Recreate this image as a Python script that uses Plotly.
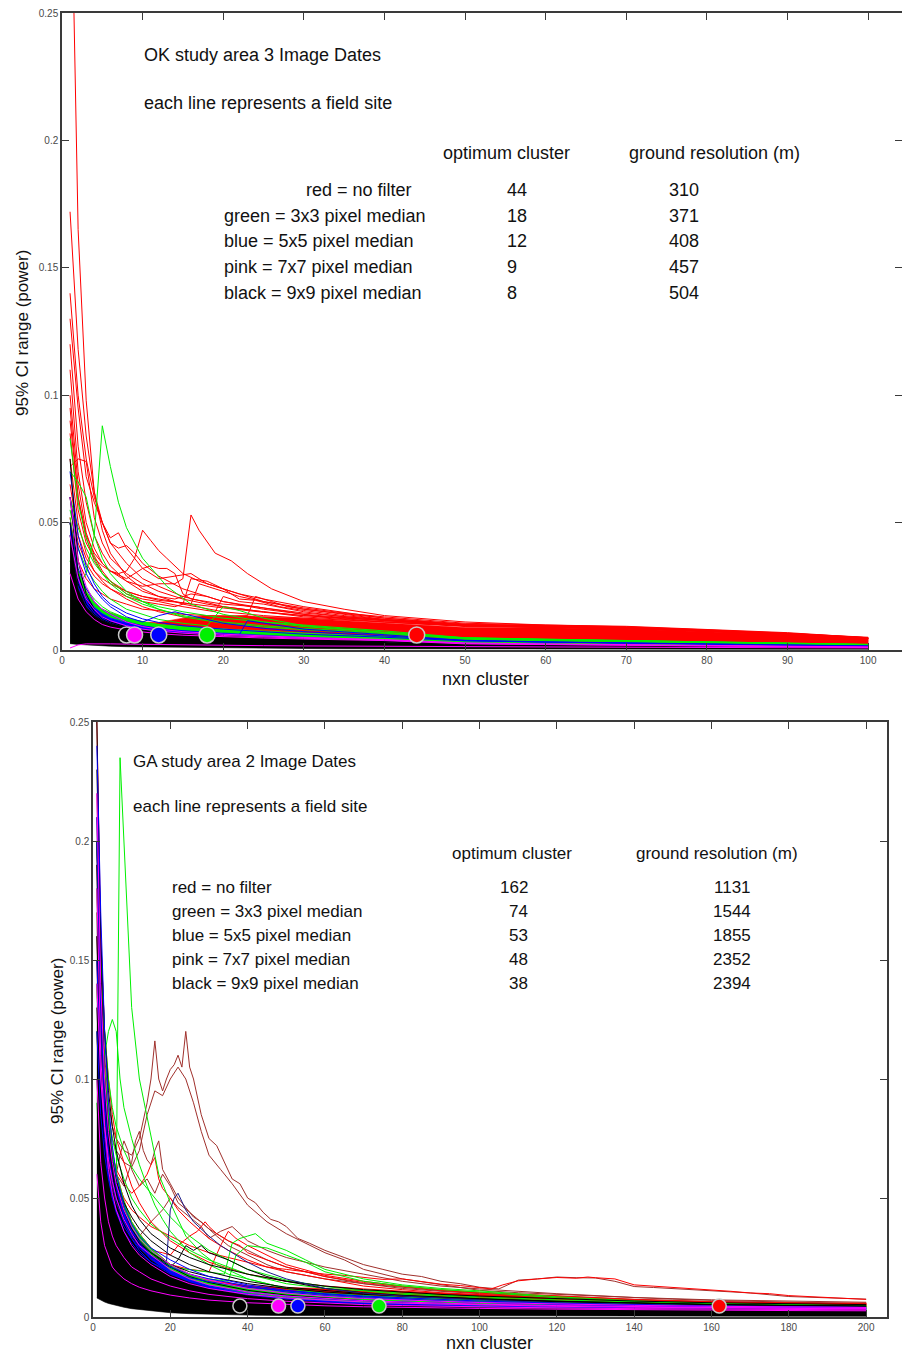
import plotly.graph_objects as go

W, H = 902, 1355
FONT = "Liberation Sans, Arial, sans-serif"

# ---------------- common categories ----------------
filter_labels = ["red = no filter", "green = 3x3 pixel median", "blue = 5x5 pixel median",
                 "pink = 7x7 pixel median", "black = 9x9 pixel median"]
filter_colors = ["#FF0000", "#00F000", "#0000FF", "#FF00FF", "#000000"]

# ---------------- OK study area (top panel) ----------------
ok_opt_cluster = [44, 18, 12, 9, 8]
ok_ground_res = [310, 371, 408, 457, 504]
ok_marker_level = [0.0059, 0.0059, 0.0059, 0.0059, 0.0059]

ok_band_x = [1, 2, 3, 4, 5, 6, 8, 10, 12, 15, 18, 22, 26, 30, 35, 40, 50, 60, 70, 80, 90, 100]
ok_floor = [0.0025, 0.0022, 0.002, 0.0018, 0.0016, 0.0015, 0.0013, 0.0012, 0.0011, 0.001, 0.0009,
            0.0008, 0.0007, 0.0006, 0.0005, 0.0004, 0.0003, 0.0003, 0.0003, 0.0003, 0.0003, 0.0003]
ok_black_top = [0.045, 0.024, 0.017, 0.0135, 0.0115, 0.0102, 0.0088, 0.0077, 0.007, 0.0064, 0.006,
                0.0055, 0.0048, 0.0042, 0.0037, 0.0032, 0.002, 0.0017, 0.0014, 0.0012, 0.001, 0.0008]
ok_blue_top = [0.05, 0.029, 0.021, 0.0168, 0.0143, 0.0126, 0.0108, 0.0094, 0.0085, 0.0076, 0.007,
               0.0063, 0.0056, 0.005, 0.0044, 0.0039, 0.0027, 0.0023, 0.002, 0.0017, 0.0013, 0.001]
ok_green_top = [0.052, 0.031, 0.023, 0.0185, 0.016, 0.0145, 0.0125, 0.011, 0.0101, 0.0092, 0.0086,
                0.0079, 0.0073, 0.0067, 0.006, 0.0055, 0.0039, 0.0036, 0.0032, 0.0028, 0.0024, 0.002]
ok_red_top = [0.052, 0.031, 0.023, 0.0185, 0.016, 0.0145, 0.0125, 0.011, 0.0108, 0.0125, 0.0135,
              0.0135, 0.013, 0.0125, 0.0115, 0.0106, 0.0088, 0.0087, 0.0082, 0.0072, 0.006, 0.0047]

OKX = [1, 2, 3, 4, 5, 6, 8, 10, 12, 15, 20, 25, 30, 40, 50, 60, 70, 80, 90, 100]

ok_red_lines = [
    (OKX, [0.33, 0.165, 0.098, 0.062, 0.047, 0.038, 0.029, 0.024, 0.021, 0.018, 0.015, 0.0135, 0.0125, 0.011, 0.0095, 0.0092, 0.0088, 0.0075, 0.0065, 0.005]),
    (OKX, [0.172, 0.118, 0.084, 0.062, 0.05, 0.042, 0.034, 0.028, 0.025, 0.021, 0.017, 0.015, 0.0135, 0.0115, 0.0097, 0.0094, 0.0088, 0.0077, 0.0064, 0.0048]),
    ([1, 2, 3, 4, 5, 6, 8, 10, 12, 14, 15, 16, 17, 19, 21, 23, 26, 30, 35, 40, 50, 60, 70, 80, 90, 100],
     [0.11, 0.07, 0.05, 0.04, 0.034, 0.031, 0.027, 0.025, 0.026, 0.026, 0.028, 0.053, 0.047, 0.038, 0.035, 0.03, 0.024, 0.019, 0.016, 0.0135, 0.011, 0.0098, 0.0093, 0.008, 0.0068, 0.0048]),
    ([1, 2, 3, 4, 5, 6, 7, 8, 9, 10, 11, 12, 13, 14, 15, 17, 20, 25, 30, 40, 50, 60, 70, 80, 90, 100],
     [0.09, 0.06, 0.045, 0.038, 0.034, 0.031, 0.03, 0.031, 0.036, 0.047, 0.043, 0.039, 0.036, 0.033, 0.03, 0.027, 0.024, 0.019, 0.016, 0.0125, 0.0102, 0.0096, 0.009, 0.0078, 0.0065, 0.0047]),
    ([1, 2, 3, 4, 5, 6, 8, 10, 12, 15, 18, 20, 25, 30, 40, 50, 60, 70, 80, 90, 100],
     [0.072, 0.075, 0.074, 0.052, 0.042, 0.036, 0.03, 0.026, 0.023, 0.02, 0.018, 0.017, 0.015, 0.013, 0.011, 0.0095, 0.009, 0.0085, 0.0074, 0.0062, 0.0046]),
    ([1, 2, 3, 4, 5, 6, 7, 8, 10, 12, 14, 16, 18, 20, 22, 25, 30, 40, 50, 60, 70, 80, 90, 100],
     [0.13, 0.095, 0.068, 0.058, 0.05, 0.044, 0.046, 0.04, 0.032, 0.028, 0.029, 0.03, 0.026, 0.024, 0.022, 0.02, 0.017, 0.0125, 0.0098, 0.009, 0.0086, 0.0076, 0.0062, 0.0046]),
    ([1, 2, 3, 4, 5, 6, 8, 10, 11, 12, 13, 14, 15, 16, 18, 20, 24, 28, 32, 40, 50, 60, 70, 80, 90, 100],
     [0.085, 0.055, 0.042, 0.036, 0.033, 0.031, 0.028, 0.032, 0.033, 0.032, 0.032, 0.03, 0.022, 0.02, 0.019, 0.018, 0.017, 0.015, 0.013, 0.011, 0.0092, 0.0088, 0.0082, 0.0072, 0.006, 0.0045]),
    ([1, 2, 3, 4, 5, 6, 8, 10, 12, 14, 15, 16, 18, 20, 22, 24, 27, 30, 35, 40, 50, 60, 70, 80, 90, 100],
     [0.06, 0.042, 0.034, 0.029, 0.026, 0.024, 0.021, 0.019, 0.018, 0.017, 0.018, 0.028, 0.027, 0.024, 0.02, 0.0195, 0.017, 0.0155, 0.0135, 0.012, 0.01, 0.0094, 0.0087, 0.0076, 0.0063, 0.0046]),
    ([1, 2, 3, 4, 5, 6, 8, 10, 12, 15, 17, 19, 20, 22, 25, 30, 35, 40, 50, 60, 70, 80, 90, 100],
     [0.1, 0.065, 0.046, 0.037, 0.031, 0.027, 0.022, 0.02, 0.019, 0.017, 0.016, 0.015, 0.021, 0.019, 0.018, 0.015, 0.013, 0.0118, 0.0097, 0.0093, 0.0089, 0.0076, 0.0063, 0.0047]),
    ([1, 2, 3, 4, 5, 6, 8, 10, 12, 15, 18, 21, 23, 24, 26, 28, 30, 35, 40, 50, 60, 70, 80, 90, 100],
     [0.05, 0.035, 0.028, 0.024, 0.022, 0.02, 0.018, 0.016, 0.0155, 0.014, 0.0135, 0.013, 0.0135, 0.021, 0.019, 0.017, 0.016, 0.014, 0.012, 0.0099, 0.0094, 0.0088, 0.0077, 0.0063, 0.0047]),
    ([1, 2, 3, 4, 5, 6, 8, 10, 12, 14, 16, 18, 20, 25, 30, 40, 50, 60, 70, 80, 90, 100],
     [0.12, 0.08, 0.058, 0.045, 0.038, 0.033, 0.027, 0.023, 0.021, 0.02, 0.022, 0.021, 0.019, 0.0165, 0.0145, 0.0118, 0.0095, 0.0091, 0.0085, 0.0074, 0.0061, 0.0046]),
    (OKX, [0.075, 0.05, 0.038, 0.031, 0.027, 0.024, 0.02, 0.017, 0.015, 0.013, 0.011, 0.0095, 0.0088, 0.0078, 0.007, 0.0066, 0.0063, 0.0057, 0.005, 0.004]),
    ([1, 2, 3, 4, 5, 6, 8, 10, 12, 14, 16, 17, 18, 20, 22, 25, 30, 35, 40, 50, 60, 70, 80, 90, 100],
     [0.065, 0.045, 0.036, 0.031, 0.028, 0.026, 0.023, 0.021, 0.02, 0.019, 0.018, 0.026, 0.025, 0.023, 0.021, 0.019, 0.0165, 0.0145, 0.013, 0.0105, 0.0097, 0.0091, 0.0079, 0.0066, 0.0048]),
    (OKX, [0.095, 0.06, 0.044, 0.035, 0.03, 0.027, 0.023, 0.021, 0.0195, 0.0185, 0.0165, 0.0148, 0.0135, 0.0115, 0.0096, 0.009, 0.0084, 0.0073, 0.006, 0.0045]),
    ([1, 2, 3, 4, 5, 6, 7, 8, 9, 10, 12, 15, 20, 25, 30, 40, 50, 60, 70, 80, 90, 100],
     [0.14, 0.1, 0.075, 0.06, 0.05, 0.042, 0.04, 0.041, 0.038, 0.034, 0.029, 0.024, 0.019, 0.016, 0.014, 0.0115, 0.0095, 0.0089, 0.0084, 0.0074, 0.0061, 0.0046]),
]

ok_green_lines = [
    ([1, 2, 3, 4, 5, 6, 7, 8, 10, 13, 16, 20, 25, 30, 40, 50, 60, 70, 80, 90, 100],
     [0.035, 0.025, 0.03, 0.045, 0.088, 0.072, 0.058, 0.048, 0.036, 0.025, 0.018, 0.014, 0.011, 0.0092, 0.0068, 0.0048, 0.0042, 0.0038, 0.0032, 0.0027, 0.0022]),
    (OKX, [0.083, 0.058, 0.044, 0.036, 0.03, 0.026, 0.021, 0.018, 0.016, 0.0135, 0.011, 0.0095, 0.0085, 0.0066, 0.0046, 0.0041, 0.0037, 0.0031, 0.0026, 0.0021]),
    (OKX, [0.07, 0.066, 0.06, 0.045, 0.036, 0.03, 0.023, 0.019, 0.016, 0.013, 0.0105, 0.009, 0.008, 0.0062, 0.0044, 0.004, 0.0036, 0.003, 0.0025, 0.002]),
    ([1, 2, 3, 4, 5, 6, 8, 10, 12, 15, 18, 20, 22, 25, 30, 40, 50, 60, 70, 80, 90, 100],
     [0.055, 0.04, 0.032, 0.027, 0.023, 0.02, 0.016, 0.014, 0.012, 0.0105, 0.0095, 0.017, 0.0155, 0.0125, 0.0095, 0.007, 0.0047, 0.0041, 0.0037, 0.0031, 0.0026, 0.0021]),
    (OKX, [0.045, 0.03, 0.024, 0.02, 0.017, 0.015, 0.0125, 0.011, 0.0098, 0.0088, 0.0077, 0.0068, 0.0062, 0.0052, 0.0042, 0.0037, 0.0034, 0.0029, 0.0024, 0.0019]),
    (OKX, [0.06, 0.048, 0.04, 0.034, 0.03, 0.027, 0.022, 0.019, 0.017, 0.015, 0.0125, 0.011, 0.0098, 0.0075, 0.0048, 0.0042, 0.0038, 0.0032, 0.0027, 0.0022]),
]

ok_blue_lines = [
    ([1, 2, 3, 4, 5, 6, 8, 10, 12, 14, 16, 18, 20, 25, 30, 40, 50, 60, 70, 80, 90, 100],
     [0.06, 0.04, 0.03, 0.024, 0.02, 0.017, 0.013, 0.011, 0.0135, 0.015, 0.0135, 0.012, 0.0105, 0.0085, 0.0072, 0.0055, 0.0038, 0.0032, 0.0028, 0.0024, 0.002, 0.0016]),
    ([1, 2, 3, 4, 5, 6, 8, 10, 12, 15, 18, 20, 22, 23, 25, 28, 30, 40, 50, 60, 70, 80, 90, 100],
     [0.05, 0.032, 0.024, 0.019, 0.016, 0.014, 0.011, 0.0095, 0.0085, 0.0075, 0.0068, 0.0064, 0.006, 0.0115, 0.0105, 0.009, 0.0082, 0.006, 0.0037, 0.0031, 0.0027, 0.0023, 0.0019, 0.0015]),
    (OKX, [0.07, 0.045, 0.033, 0.026, 0.021, 0.018, 0.0145, 0.0122, 0.0108, 0.0095, 0.0082, 0.0072, 0.0062, 0.005, 0.0036, 0.0031, 0.0027, 0.0023, 0.0019, 0.0015]),
]

ok_pink_lines = [
    (OKX, [0.06, 0.035, 0.025, 0.019, 0.016, 0.014, 0.011, 0.0092, 0.0082, 0.0072, 0.0062, 0.0055, 0.0049, 0.0041, 0.0028, 0.0024, 0.0021, 0.0018, 0.0015, 0.0012]),
    (OKX, [0.03, 0.02, 0.015, 0.012, 0.01, 0.009, 0.0078, 0.007, 0.0064, 0.0058, 0.0052, 0.0047, 0.0043, 0.0037, 0.0024, 0.0021, 0.0019, 0.0016, 0.0013, 0.0011]),
    (OKX, [0.0008, 0.002, 0.0024, 0.0025, 0.0025, 0.0024, 0.0023, 0.0022, 0.0021, 0.002, 0.0018, 0.0017, 0.0016, 0.0014, 0.0013, 0.0012, 0.0011, 0.001, 0.0009, 0.0008]),
    (OKX, [0.045, 0.028, 0.02, 0.016, 0.013, 0.0115, 0.0095, 0.0082, 0.0074, 0.0066, 0.0057, 0.0051, 0.0046, 0.0039, 0.0026, 0.0022, 0.0019, 0.0016, 0.0013, 0.001]),
]

ok_black_lines = [
    (OKX, [0.075, 0.035, 0.022, 0.016, 0.013, 0.011, 0.009, 0.0078, 0.007, 0.0063, 0.0056, 0.0051, 0.0045, 0.0038, 0.0024, 0.002, 0.0017, 0.0014, 0.0012, 0.001]),
    (OKX, [0.06, 0.03, 0.02, 0.015, 0.012, 0.0105, 0.0085, 0.0074, 0.0066, 0.006, 0.0053, 0.0048, 0.0042, 0.0035, 0.0022, 0.0018, 0.0015, 0.0013, 0.0011, 0.0009]),
    (OKX, [0.05, 0.026, 0.018, 0.014, 0.0115, 0.01, 0.0082, 0.007, 0.0063, 0.0057, 0.005, 0.0045, 0.004, 0.0033, 0.002, 0.0017, 0.0014, 0.0012, 0.001, 0.0008]),
]

# ---------------- GA study area (bottom panel) ----------------
ga_opt_cluster = [162, 74, 53, 48, 38]
ga_ground_res = [1131, 1544, 1855, 2352, 2394]
ga_marker_level = [0.0046, 0.0046, 0.0046, 0.0046, 0.0046]

GX = [1, 2, 3, 4, 5, 6, 8, 10, 12, 15, 20, 25, 30, 40, 50, 60, 70, 80, 90, 100, 120, 140, 160, 180, 200]
ga_floor = [0.008, 0.007, 0.0063, 0.0057, 0.0052, 0.0048, 0.0041, 0.0035, 0.003, 0.0025, 0.0018, 0.0014, 0.0011,
            0.0008, 0.0006, 0.0005, 0.0004, 0.0004, 0.0003, 0.0003, 0.0003, 0.0003, 0.0003, 0.0003, 0.0003]
ga_black_top = [0.2, 0.13, 0.095, 0.075, 0.062, 0.053, 0.041, 0.034, 0.029, 0.024, 0.018, 0.0145, 0.012,
                0.009, 0.0072, 0.006, 0.0052, 0.0047, 0.0043, 0.004, 0.0037, 0.0035, 0.0033, 0.0032, 0.003]
ga_blue_top = [0.2, 0.135, 0.1, 0.079, 0.066, 0.057, 0.045, 0.037, 0.032, 0.026, 0.0195, 0.0158, 0.013,
               0.0098, 0.008, 0.0068, 0.006, 0.0055, 0.0051, 0.0048, 0.0044, 0.0041, 0.0038, 0.0037, 0.0035]
ga_green_top = [0.2, 0.14, 0.105, 0.084, 0.07, 0.061, 0.049, 0.04, 0.035, 0.029, 0.022, 0.018, 0.015,
                0.0122, 0.0105, 0.0092, 0.0083, 0.0077, 0.0071, 0.0066, 0.0058, 0.0052, 0.0047, 0.0044, 0.0042]
ga_red_top = [0.2, 0.14, 0.105, 0.084, 0.07, 0.061, 0.049, 0.04, 0.035, 0.029, 0.022, 0.018, 0.0155,
              0.0132, 0.0124, 0.012, 0.0112, 0.0105, 0.01, 0.0095, 0.0085, 0.007, 0.0062, 0.006, 0.006]

ga_darkred_lines = [
    ([1, 2, 3, 4, 5, 6, 8, 10, 12, 14, 15, 16, 17, 18, 19, 20, 21, 22, 23, 24, 25, 26, 28, 30, 32, 34, 36, 38, 40,
      42, 44, 46, 48, 50, 53, 56, 60, 65, 70, 75, 80, 85, 90, 95, 100, 105, 110, 115, 120, 125, 130, 135, 140,
      145, 150, 160, 170, 180, 190, 200],
     [0.22, 0.15, 0.11, 0.09, 0.08, 0.075, 0.07, 0.068, 0.075, 0.09, 0.1, 0.116, 0.1, 0.095, 0.1, 0.104, 0.106,
      0.11, 0.105, 0.12, 0.105, 0.1, 0.085, 0.075, 0.072, 0.065, 0.058, 0.056, 0.05, 0.048, 0.044, 0.041, 0.04,
      0.038, 0.033, 0.031, 0.028, 0.025, 0.022, 0.02, 0.018, 0.017, 0.015, 0.014, 0.0125, 0.0118, 0.0155, 0.016,
      0.0168, 0.0165, 0.0164, 0.015, 0.0128, 0.0124, 0.012, 0.0112, 0.0101, 0.0086, 0.0081, 0.0075]),
    ([1, 2, 3, 4, 5, 6, 8, 10, 12, 14, 16, 18, 20, 22, 24, 26, 28, 30, 33, 36, 40, 45, 50, 55, 60, 65, 70, 80,
      90, 100, 110, 120, 130, 140, 150, 160, 170, 180, 190, 200],
     [0.2, 0.14, 0.1, 0.085, 0.075, 0.07, 0.065, 0.063, 0.07, 0.085, 0.095, 0.093, 0.1, 0.105, 0.1, 0.09, 0.078,
      0.068, 0.062, 0.056, 0.047, 0.04, 0.035, 0.031, 0.027, 0.024, 0.02, 0.016, 0.0135, 0.0112, 0.0102, 0.0095,
      0.0088, 0.008, 0.0075, 0.007, 0.0066, 0.0062, 0.0058, 0.0055]),
    ([1, 2, 3, 4, 5, 6, 8, 10, 11, 12, 13, 14, 15, 16, 17, 18, 20, 22, 24, 26, 28, 30, 32, 35, 40, 45, 50, 60,
      70, 80, 90, 100, 120, 140, 160, 180, 200],
     [0.19, 0.12, 0.09, 0.075, 0.066, 0.06, 0.055, 0.065, 0.074, 0.078, 0.07, 0.066, 0.064, 0.07, 0.074, 0.062,
      0.056, 0.05, 0.046, 0.042, 0.04, 0.037, 0.034, 0.03, 0.026, 0.022, 0.019, 0.016, 0.014, 0.012, 0.0108,
      0.0098, 0.0085, 0.0072, 0.0063, 0.0058, 0.0054]),
    ([1, 2, 3, 4, 5, 6, 7, 8, 9, 10, 12, 14, 16, 18, 20, 22, 25, 28, 30, 35, 40, 45, 50, 60, 70, 80, 90, 100,
      120, 140, 160, 180, 200],
     [0.17, 0.11, 0.08, 0.065, 0.058, 0.06, 0.068, 0.074, 0.07, 0.062, 0.055, 0.058, 0.052, 0.06, 0.055, 0.048,
      0.044, 0.04, 0.037, 0.032, 0.028, 0.024, 0.021, 0.017, 0.014, 0.0125, 0.011, 0.0102, 0.0088, 0.0074,
      0.0065, 0.006, 0.0056]),
    ([1, 2, 3, 4, 5, 6, 8, 10, 12, 15, 18, 20, 22, 25, 28, 30, 33, 36, 40, 45, 50, 55, 60, 70, 80, 90, 100, 120,
      140, 160, 180, 200],
     [0.16, 0.1, 0.075, 0.06, 0.052, 0.047, 0.04, 0.036, 0.034, 0.04, 0.045, 0.05, 0.046, 0.042, 0.038, 0.033,
      0.036, 0.038, 0.032, 0.028, 0.025, 0.023, 0.021, 0.018, 0.015, 0.013, 0.0118, 0.0098, 0.0082, 0.0072,
      0.0066, 0.0062]),
]

ga_red_lines = [
    ([1, 2, 3, 4, 5, 6, 8, 10, 12, 15, 20, 25, 30, 35, 40, 45, 50, 55, 60, 65, 70, 75, 80, 85, 90, 95, 100, 103,
      106, 110, 115, 120, 125, 128, 130, 135, 140, 145, 150, 155, 160, 165, 170, 175, 180, 185, 190, 195, 200],
     [0.18, 0.12, 0.09, 0.075, 0.065, 0.058, 0.05, 0.045, 0.042, 0.038, 0.034, 0.03, 0.027, 0.025, 0.023, 0.021,
      0.02, 0.019, 0.018, 0.0175, 0.0165, 0.0158, 0.016, 0.0148, 0.0138, 0.0132, 0.0122, 0.0118, 0.0135, 0.0152,
      0.016, 0.0166, 0.0163, 0.0168, 0.0165, 0.016, 0.0135, 0.013, 0.0122, 0.0118, 0.0113, 0.0108, 0.0101,
      0.0098, 0.009, 0.0087, 0.0081, 0.0078, 0.0074]),
    ([1, 2, 3, 4, 5, 6, 8, 10, 12, 15, 18, 20, 22, 25, 27, 29, 30, 32, 35, 38, 40, 45, 50, 60, 70, 80, 90, 100,
      120, 140, 160, 180, 200],
     [0.15, 0.095, 0.07, 0.057, 0.05, 0.045, 0.038, 0.034, 0.031, 0.028, 0.027, 0.026, 0.03, 0.034, 0.036, 0.04,
      0.038, 0.035, 0.032, 0.03, 0.027, 0.024, 0.021, 0.017, 0.0145, 0.0128, 0.0112, 0.01, 0.0084, 0.007, 0.0062,
      0.0058, 0.0055]),
    ([1, 2, 3, 4, 5, 6, 8, 10, 12, 14, 15, 16, 17, 18, 20, 22, 25, 28, 30, 35, 40, 45, 50, 60, 70, 80, 90, 100,
      120, 140, 160, 180, 200],
     [0.21, 0.13, 0.095, 0.078, 0.068, 0.062, 0.056, 0.052, 0.055, 0.06, 0.064, 0.067, 0.058, 0.054, 0.05, 0.045,
      0.04, 0.036, 0.033, 0.028, 0.024, 0.021, 0.019, 0.016, 0.013, 0.0115, 0.0102, 0.0094, 0.008, 0.0068, 0.006,
      0.0056, 0.0052]),
    ([1, 2, 3, 4, 5, 6, 7, 8, 10, 12, 15, 20, 25, 30, 40, 50, 60, 70, 80, 90, 100, 120, 140, 160, 180, 200],
     [0.25, 0.16, 0.12, 0.1, 0.085, 0.075, 0.07, 0.065, 0.055, 0.048, 0.04, 0.032, 0.027, 0.023, 0.018, 0.015,
      0.013, 0.0118, 0.0108, 0.0098, 0.009, 0.0078, 0.0066, 0.006, 0.0055, 0.0052]),
    (GX, [0.12, 0.075, 0.055, 0.045, 0.039, 0.035, 0.029, 0.026, 0.023, 0.021, 0.018, 0.016, 0.0145, 0.0125, 0.011,
          0.0102, 0.0095, 0.0088, 0.0082, 0.0076, 0.0066, 0.0058, 0.0053, 0.005, 0.0048]),
    ([1, 2, 3, 4, 5, 6, 8, 10, 12, 15, 20, 25, 30, 33, 35, 37, 40, 45, 50, 60, 70, 80, 90, 100, 120, 140, 160,
      180, 200],
     [0.14, 0.09, 0.068, 0.055, 0.048, 0.043, 0.036, 0.032, 0.029, 0.026, 0.022, 0.02, 0.019, 0.03, 0.036, 0.033,
      0.03, 0.026, 0.022, 0.0175, 0.015, 0.013, 0.0115, 0.0104, 0.0088, 0.0074, 0.0064, 0.0058, 0.0054]),
]

ga_green_lines = [
    ([1, 2, 3, 4, 5, 6, 7, 8, 9, 10, 12, 14, 17, 20, 24, 28, 32, 36, 40, 50, 60, 70, 80, 90, 100, 120, 140, 160,
      180, 200],
     [0.14, 0.09, 0.07, 0.06, 0.055, 0.05, 0.235, 0.2, 0.16, 0.13, 0.1, 0.084, 0.06, 0.048, 0.034, 0.027, 0.022,
      0.019, 0.016, 0.012, 0.0098, 0.0088, 0.008, 0.0075, 0.007, 0.0062, 0.0055, 0.005, 0.0047, 0.0044]),
    ([1, 2, 3, 4, 5, 6, 7, 8, 10, 12, 14, 16, 18, 20, 25, 30, 35, 40, 50, 60, 70, 80, 90, 100, 120, 140, 160,
      180, 200],
     [0.15, 0.12, 0.11, 0.12, 0.125, 0.12, 0.1, 0.088, 0.075, 0.064, 0.055, 0.047, 0.041, 0.036, 0.027, 0.022,
      0.018, 0.016, 0.012, 0.01, 0.009, 0.0082, 0.0076, 0.007, 0.0062, 0.0056, 0.005, 0.0047, 0.0044]),
    ([1, 2, 3, 4, 5, 6, 8, 10, 12, 15, 20, 25, 30, 34, 36, 38, 40, 42, 45, 50, 55, 60, 70, 80, 90, 100, 120, 140,
      160, 180, 200],
     [0.1, 0.07, 0.055, 0.045, 0.04, 0.036, 0.03, 0.027, 0.025, 0.023, 0.021, 0.02, 0.019, 0.018, 0.031, 0.033,
      0.034, 0.035, 0.031, 0.028, 0.024, 0.02, 0.016, 0.0135, 0.012, 0.011, 0.0085, 0.0068, 0.0058, 0.0052, 0.0048]),
    ([1, 2, 3, 4, 5, 6, 8, 10, 12, 15, 20, 25, 30, 35, 37, 40, 45, 50, 55, 60, 70, 80, 90, 100, 120, 140, 160,
      180, 200],
     [0.09, 0.06, 0.048, 0.04, 0.036, 0.033, 0.028, 0.025, 0.023, 0.021, 0.019, 0.0175, 0.016, 0.015, 0.026, 0.03,
      0.029, 0.026, 0.023, 0.019, 0.015, 0.013, 0.0115, 0.0105, 0.008, 0.0065, 0.0055, 0.005, 0.0046]),
    (GX, [0.18, 0.13, 0.1, 0.085, 0.075, 0.068, 0.058, 0.05, 0.045, 0.039, 0.033, 0.028, 0.024, 0.018, 0.014, 0.012,
          0.011, 0.0095, 0.0088, 0.008, 0.0068, 0.006, 0.0054, 0.005, 0.0047]),
    (GX, [0.12, 0.08, 0.062, 0.05, 0.043, 0.038, 0.031, 0.027, 0.024, 0.021, 0.018, 0.016, 0.0145, 0.012, 0.0105,
          0.0095, 0.0088, 0.0082, 0.0077, 0.0072, 0.0064, 0.0057, 0.0052, 0.0048, 0.0045]),
    (GX, [0.2, 0.15, 0.12, 0.1, 0.088, 0.08, 0.07, 0.063, 0.058, 0.052, 0.042, 0.034, 0.028, 0.02, 0.0155, 0.0128,
          0.0112, 0.01, 0.0092, 0.0085, 0.0072, 0.0062, 0.0055, 0.005, 0.0047]),
]

ga_blue_lines = [
    ([1, 2, 3, 4, 5, 6, 8, 10, 12, 15, 18, 19, 20, 21, 22, 24, 26, 28, 30, 33, 36, 40, 45, 50, 60, 70, 80, 90,
      100, 120, 140, 160, 180, 200],
     [0.2, 0.12, 0.085, 0.065, 0.055, 0.048, 0.04, 0.034, 0.03, 0.026, 0.023, 0.023, 0.045, 0.05, 0.052, 0.045,
      0.04, 0.037, 0.034, 0.03, 0.027, 0.023, 0.019, 0.016, 0.012, 0.01, 0.0088, 0.008, 0.0072, 0.006, 0.0052,
      0.0047, 0.0044, 0.0041]),
    (GX, [0.21, 0.13, 0.09, 0.07, 0.058, 0.05, 0.04, 0.033, 0.028, 0.023, 0.018, 0.015, 0.013, 0.0105, 0.0088,
          0.0076, 0.0068, 0.0062, 0.0057, 0.0053, 0.0047, 0.0043, 0.004, 0.0038, 0.0036]),
    (GX, [0.15, 0.1, 0.075, 0.06, 0.05, 0.044, 0.036, 0.031, 0.027, 0.023, 0.019, 0.0165, 0.0148, 0.0125, 0.011,
          0.0095, 0.0085, 0.0075, 0.0068, 0.0062, 0.0053, 0.0047, 0.0043, 0.004, 0.0038]),
    (GX, [0.24, 0.17, 0.12, 0.09, 0.072, 0.06, 0.047, 0.039, 0.034, 0.029, 0.024, 0.02, 0.017, 0.0135, 0.0112,
          0.0098, 0.0088, 0.008, 0.0073, 0.0067, 0.0058, 0.0051, 0.0046, 0.0043, 0.004]),
    (GX, [0.12, 0.085, 0.068, 0.058, 0.05, 0.045, 0.038, 0.033, 0.029, 0.025, 0.021, 0.018, 0.016, 0.013, 0.0105,
          0.009, 0.008, 0.0072, 0.0066, 0.0061, 0.0052, 0.0046, 0.0042, 0.0039, 0.0037]),
]

ga_pink_lines = [
    (GX, [0.18, 0.11, 0.08, 0.062, 0.052, 0.045, 0.036, 0.03, 0.026, 0.022, 0.017, 0.014, 0.012, 0.0095, 0.008,
          0.007, 0.0063, 0.0058, 0.0054, 0.005, 0.0045, 0.0041, 0.0038, 0.0036, 0.0034]),
    (GX, [0.1, 0.065, 0.05, 0.04, 0.034, 0.03, 0.025, 0.021, 0.019, 0.016, 0.013, 0.011, 0.0095, 0.0077, 0.0066,
          0.0058, 0.0052, 0.0048, 0.0045, 0.0042, 0.0038, 0.0035, 0.0033, 0.0031, 0.003]),
    (GX, [0.06, 0.04, 0.03, 0.025, 0.021, 0.019, 0.016, 0.014, 0.0125, 0.011, 0.0092, 0.008, 0.0071, 0.006, 0.0052,
          0.0047, 0.0043, 0.004, 0.0038, 0.0036, 0.0033, 0.003, 0.0028, 0.0027, 0.0026]),
    (GX, [0.22, 0.14, 0.1, 0.078, 0.065, 0.056, 0.045, 0.038, 0.033, 0.028, 0.022, 0.018, 0.0155, 0.012, 0.01,
          0.0087, 0.0078, 0.0071, 0.0066, 0.0061, 0.0054, 0.0049, 0.0045, 0.0042, 0.004]),
    (GX, [0.14, 0.1, 0.08, 0.066, 0.057, 0.05, 0.041, 0.035, 0.03, 0.026, 0.02, 0.016, 0.0135, 0.0105, 0.0088,
          0.0077, 0.0069, 0.0063, 0.0058, 0.0054, 0.0048, 0.0043, 0.004, 0.0038, 0.0036]),
]

ga_black_lines = [
    (GX, [0.25, 0.15, 0.1, 0.08, 0.066, 0.057, 0.045, 0.037, 0.032, 0.027, 0.021, 0.017, 0.0145, 0.0112, 0.0092,
          0.0079, 0.0069, 0.0062, 0.0057, 0.0053, 0.0047, 0.0042, 0.0039, 0.0036, 0.0034]),
    (GX, [0.19, 0.12, 0.085, 0.068, 0.057, 0.05, 0.041, 0.035, 0.031, 0.027, 0.022, 0.019, 0.017, 0.014, 0.012,
          0.0105, 0.0095, 0.0087, 0.008, 0.0074, 0.0064, 0.0057, 0.0052, 0.0048, 0.0045]),
    (GX, [0.23, 0.16, 0.12, 0.095, 0.08, 0.07, 0.056, 0.047, 0.041, 0.035, 0.029, 0.025, 0.022, 0.018, 0.015,
          0.013, 0.0115, 0.0104, 0.0095, 0.0088, 0.0076, 0.0067, 0.006, 0.0055, 0.0052]),
    (GX, [0.16, 0.11, 0.088, 0.074, 0.064, 0.057, 0.048, 0.042, 0.037, 0.032, 0.026, 0.022, 0.019, 0.015, 0.0125,
          0.011, 0.0098, 0.0089, 0.0082, 0.0076, 0.0066, 0.0058, 0.0053, 0.0049, 0.0046]),
    ([1, 2, 3, 4, 5, 6, 8, 10, 12, 15, 20, 22, 24, 26, 28, 30, 35, 40, 45, 50, 60, 70, 80, 90, 100, 120, 140, 160,
      180, 200],
     [0.13, 0.09, 0.07, 0.058, 0.05, 0.044, 0.037, 0.032, 0.029, 0.025, 0.021, 0.024, 0.03, 0.028, 0.03, 0.027,
      0.024, 0.02, 0.017, 0.015, 0.012, 0.0102, 0.0091, 0.0083, 0.0077, 0.0066, 0.0058, 0.0052, 0.0048, 0.0045]),
]

# ---------------- build figure ----------------
RED, GREEN, BLUE, PINK, BLACK, DARKRED, NAVY = "#FF0000", "#00F000", "#0000FF", "#FF00FF", "#000000", "#A0302C", "#1C1C88"

fig = go.Figure()


def band(xs, lower, upper, color, xa, ya):
    fig.add_trace(go.Scatter(x=list(xs) + list(xs)[::-1], y=list(upper) + list(lower)[::-1],
                             fill="toself", fillcolor=color, mode="lines",
                             line=dict(color=color, width=0.6), xaxis=xa, yaxis=ya,
                             hoverinfo="skip", showlegend=False))


def lines(group, color, xa, ya, width=1.0):
    for xs, ys in group:
        fig.add_trace(go.Scatter(x=xs, y=ys, mode="lines", line=dict(color=color, width=width),
                                 xaxis=xa, yaxis=ya, hoverinfo="skip", showlegend=False))


# top panel
band(ok_band_x, ok_green_top, ok_red_top, RED, "x", "y")
lines(ok_red_lines, RED, "x", "y")
band(ok_band_x, ok_blue_top, ok_green_top, GREEN, "x", "y")
lines(ok_green_lines, GREEN, "x", "y")
band(ok_band_x, ok_black_top, ok_blue_top, BLUE, "x", "y")
lines(ok_blue_lines, BLUE, "x", "y")
band(ok_band_x, ok_floor, ok_black_top, BLACK, "x", "y")
lines(ok_black_lines, BLACK, "x", "y")
lines(ok_pink_lines, PINK, "x", "y")

# bottom panel
band(GX, ga_green_top, ga_red_top, RED, "x2", "y2")
lines(ga_darkred_lines, DARKRED, "x2", "y2")
lines(ga_red_lines, RED, "x2", "y2")
band(GX, ga_blue_top, ga_green_top, GREEN, "x2", "y2")
lines(ga_green_lines, GREEN, "x2", "y2")
band(GX, ga_black_top, ga_blue_top, BLUE, "x2", "y2")
band(GX, ga_floor, ga_black_top, BLACK, "x2", "y2")
lines(ga_black_lines, BLACK, "x2", "y2")
lines(ga_blue_lines[:1], NAVY, "x2", "y2")
lines(ga_blue_lines[1:], BLUE, "x2", "y2")
lines(ga_pink_lines, PINK, "x2", "y2")

# optimum-cluster markers (drawn black, pink, blue, green, red)
for idx in [4, 3, 2, 1, 0]:
    fig.add_trace(go.Scatter(x=[ok_opt_cluster[idx]], y=[ok_marker_level[idx]], mode="markers",
                             marker=dict(size=16, color=filter_colors[idx],
                                         line=dict(color="#C8C8C8", width=1.5)),
                             xaxis="x", yaxis="y", hoverinfo="skip", showlegend=False, cliponaxis=False))
    fig.add_trace(go.Scatter(x=[ga_opt_cluster[idx]], y=[ga_marker_level[idx]], mode="markers",
                             marker=dict(size=14, color=filter_colors[idx],
                                         line=dict(color="#C8C8C8", width=1.5)),
                             xaxis="x2", yaxis="y2", hoverinfo="skip", showlegend=False, cliponaxis=False))


def px2x(px):
    return px / W


def py2y(py):
    return 1 - py / H


axis_common = dict(showline=True, linecolor="#3A3A3A", linewidth=1.5, mirror="ticks", ticks="inside",
                   ticklen=7, tickwidth=1, tickcolor="#3A3A3A", showgrid=False, zeroline=False,
                   automargin=False,
                   tickfont=dict(family=FONT, size=10, color="#4A4A4A"))

yticks = [0, 0.05, 0.1, 0.15, 0.2, 0.25]
ytick_text = ["0", "0.05", "0.1", "0.15", "0.2", "0.25"]

fig.update_layout(
    width=W, height=H, margin=dict(l=0, r=0, t=0, b=0, pad=0, autoexpand=False),
    paper_bgcolor="white", plot_bgcolor="white", showlegend=False,
    xaxis=dict(domain=[px2x(62), 1.0], range=[0, 104.2], tickvals=list(range(0, 101, 10)),
               anchor="y", **axis_common),
    yaxis=dict(domain=[py2y(650), py2y(13)], range=[0, 0.25],
               tickvals=yticks, ticktext=ytick_text, anchor="x", **axis_common),
    xaxis2=dict(domain=[px2x(93), px2x(887)], range=[0, 205.4], tickvals=list(range(0, 201, 20)),
                anchor="y2", **axis_common),
    yaxis2=dict(domain=[py2y(1317), py2y(722)], range=[0, 0.25],
                tickvals=yticks, ticktext=ytick_text, anchor="x2", **axis_common),
)

annotations = []


def ann(text, px, py, size, xanchor="left", yanchor="middle", angle=0, color="#111111"):
    annotations.append(dict(text=text, x=px2x(px), y=py2y(py), xref="paper", yref="paper",
                            xanchor=xanchor, yanchor=yanchor, showarrow=False, textangle=angle,
                            font=dict(family=FONT, size=size, color=color)))


# top panel text
ann("OK study area 3 Image Dates", 142, 55, 18)
ann("each line represents a field site", 142, 103, 18)
ann("optimum cluster", 441, 153, 18)
ann("ground resolution (m)", 627, 153, 18)
ok_label_x = [304, 222, 222, 222, 222]
ok_rows_y = [190, 216, 241, 267, 293]
for i in range(5):
    ann(filter_labels[i], ok_label_x[i], ok_rows_y[i], 18)
    ann(str(ok_opt_cluster[i]), 505, ok_rows_y[i], 18)
    ann(str(ok_ground_res[i]), 667, ok_rows_y[i], 18)
ann("nxn cluster", 485, 679, 18, xanchor="center")
ann("95% CI range (power)", 22, 333, 17, xanchor="center", angle=-90)

# bottom panel text
ann("GA study area 2 Image Dates", 131, 761, 17)
ann("each line represents a field site", 131, 806, 17)
ann("optimum cluster", 450, 853, 17)
ann("ground resolution (m)", 634, 853, 17)
ga_rows_y = [887, 911, 935, 959, 983]
for i in range(5):
    ann(filter_labels[i], 170, ga_rows_y[i], 17)
    ann(str(ga_opt_cluster[i]), 530, ga_rows_y[i], 17, xanchor="right")
    ann(str(ga_ground_res[i]), 753, ga_rows_y[i], 17, xanchor="right")
ann("nxn cluster", 489, 1343, 18, xanchor="center")
ann("95% CI range (power)", 57, 1041, 17, xanchor="center", angle=-90)

fig.update_layout(annotations=annotations)

page_fix = (
    "var de=document.documentElement, b=document.body;"
    "de.style.margin='0';de.style.padding='0';de.style.overflow='hidden';"
    "b.style.margin='0';b.style.padding='0';b.style.overflow='hidden';"
)
fig.write_html("out.html", config={"displayModeBar": False}, post_script=page_fix)
